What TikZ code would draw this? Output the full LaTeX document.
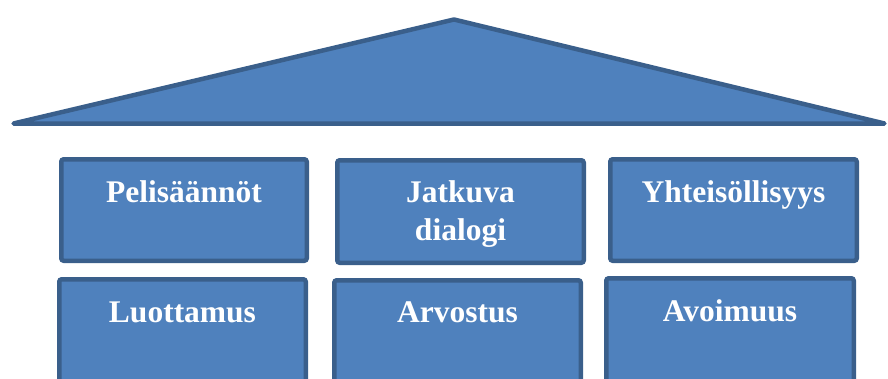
\documentclass[tikz,border=0pt]{standalone}
\usepackage{fontspec}
\setmainfont{Liberation Serif}
\definecolor{fillblue}{HTML}{4F81BD}
\definecolor{edgeblue}{HTML}{3A5F8B}
\begin{document}
\begin{tikzpicture}[x=1pt,y=-1pt,
  pillar/.style={draw=edgeblue,fill=fillblue,line width=4.5pt,rounded corners=2.5pt,
    rectangle,inner sep=0pt},
  lbl/.style={text=white,font=\bfseries\fontsize{31.5}{37.3}\selectfont,align=center,
    inner sep=0pt,anchor=base}]
\useasboundingbox (0,0) rectangle (888,378);
\clip (0,0) rectangle (888,378);
% roof
\draw[draw=edgeblue,fill=fillblue,line width=4.5pt,line join=round]
  (13.5,123.5) coordinate (rl) -- (454,19.5) coordinate (ra) -- (884.5,123.5) coordinate (rr) -- cycle;
% upper row
\node[pillar,minimum width=245.5pt,minimum height=101.5pt] (b1) at (184,210) {};
\node[pillar,minimum width=246.5pt,minimum height=102.5pt] (b2) at (460.5,211.5) {};
\node[pillar,minimum width=246.5pt,minimum height=101.5pt] (b3) at (733.5,210) {};
% lower row
\node[pillar,minimum width=246.5pt,minimum height=140pt] (b4) at (182.5,349.25) {};
\node[pillar,minimum width=246.5pt,minimum height=140pt] (b5) at (457.5,350.25) {};
\node[pillar,minimum width=247.5pt,minimum height=140pt] (b6) at (730,348.25) {};
% labels
\node[lbl] (t1) at (184,202.7) {Pelisäännöt};
\node[lbl] (t2) at (460.5,240) {Jatkuva\\dialogi};
\node[lbl] (t3) at (733.5,202.7) {Yhteisöllisyys};
\node[lbl] (t4) at (182.5,322.7) {Luottamus};
\node[lbl] (t5) at (457.5,322.7) {Arvostus};
\node[lbl] (t6) at (730,321.7) {Avoimuus};
\end{tikzpicture}
\end{document}
